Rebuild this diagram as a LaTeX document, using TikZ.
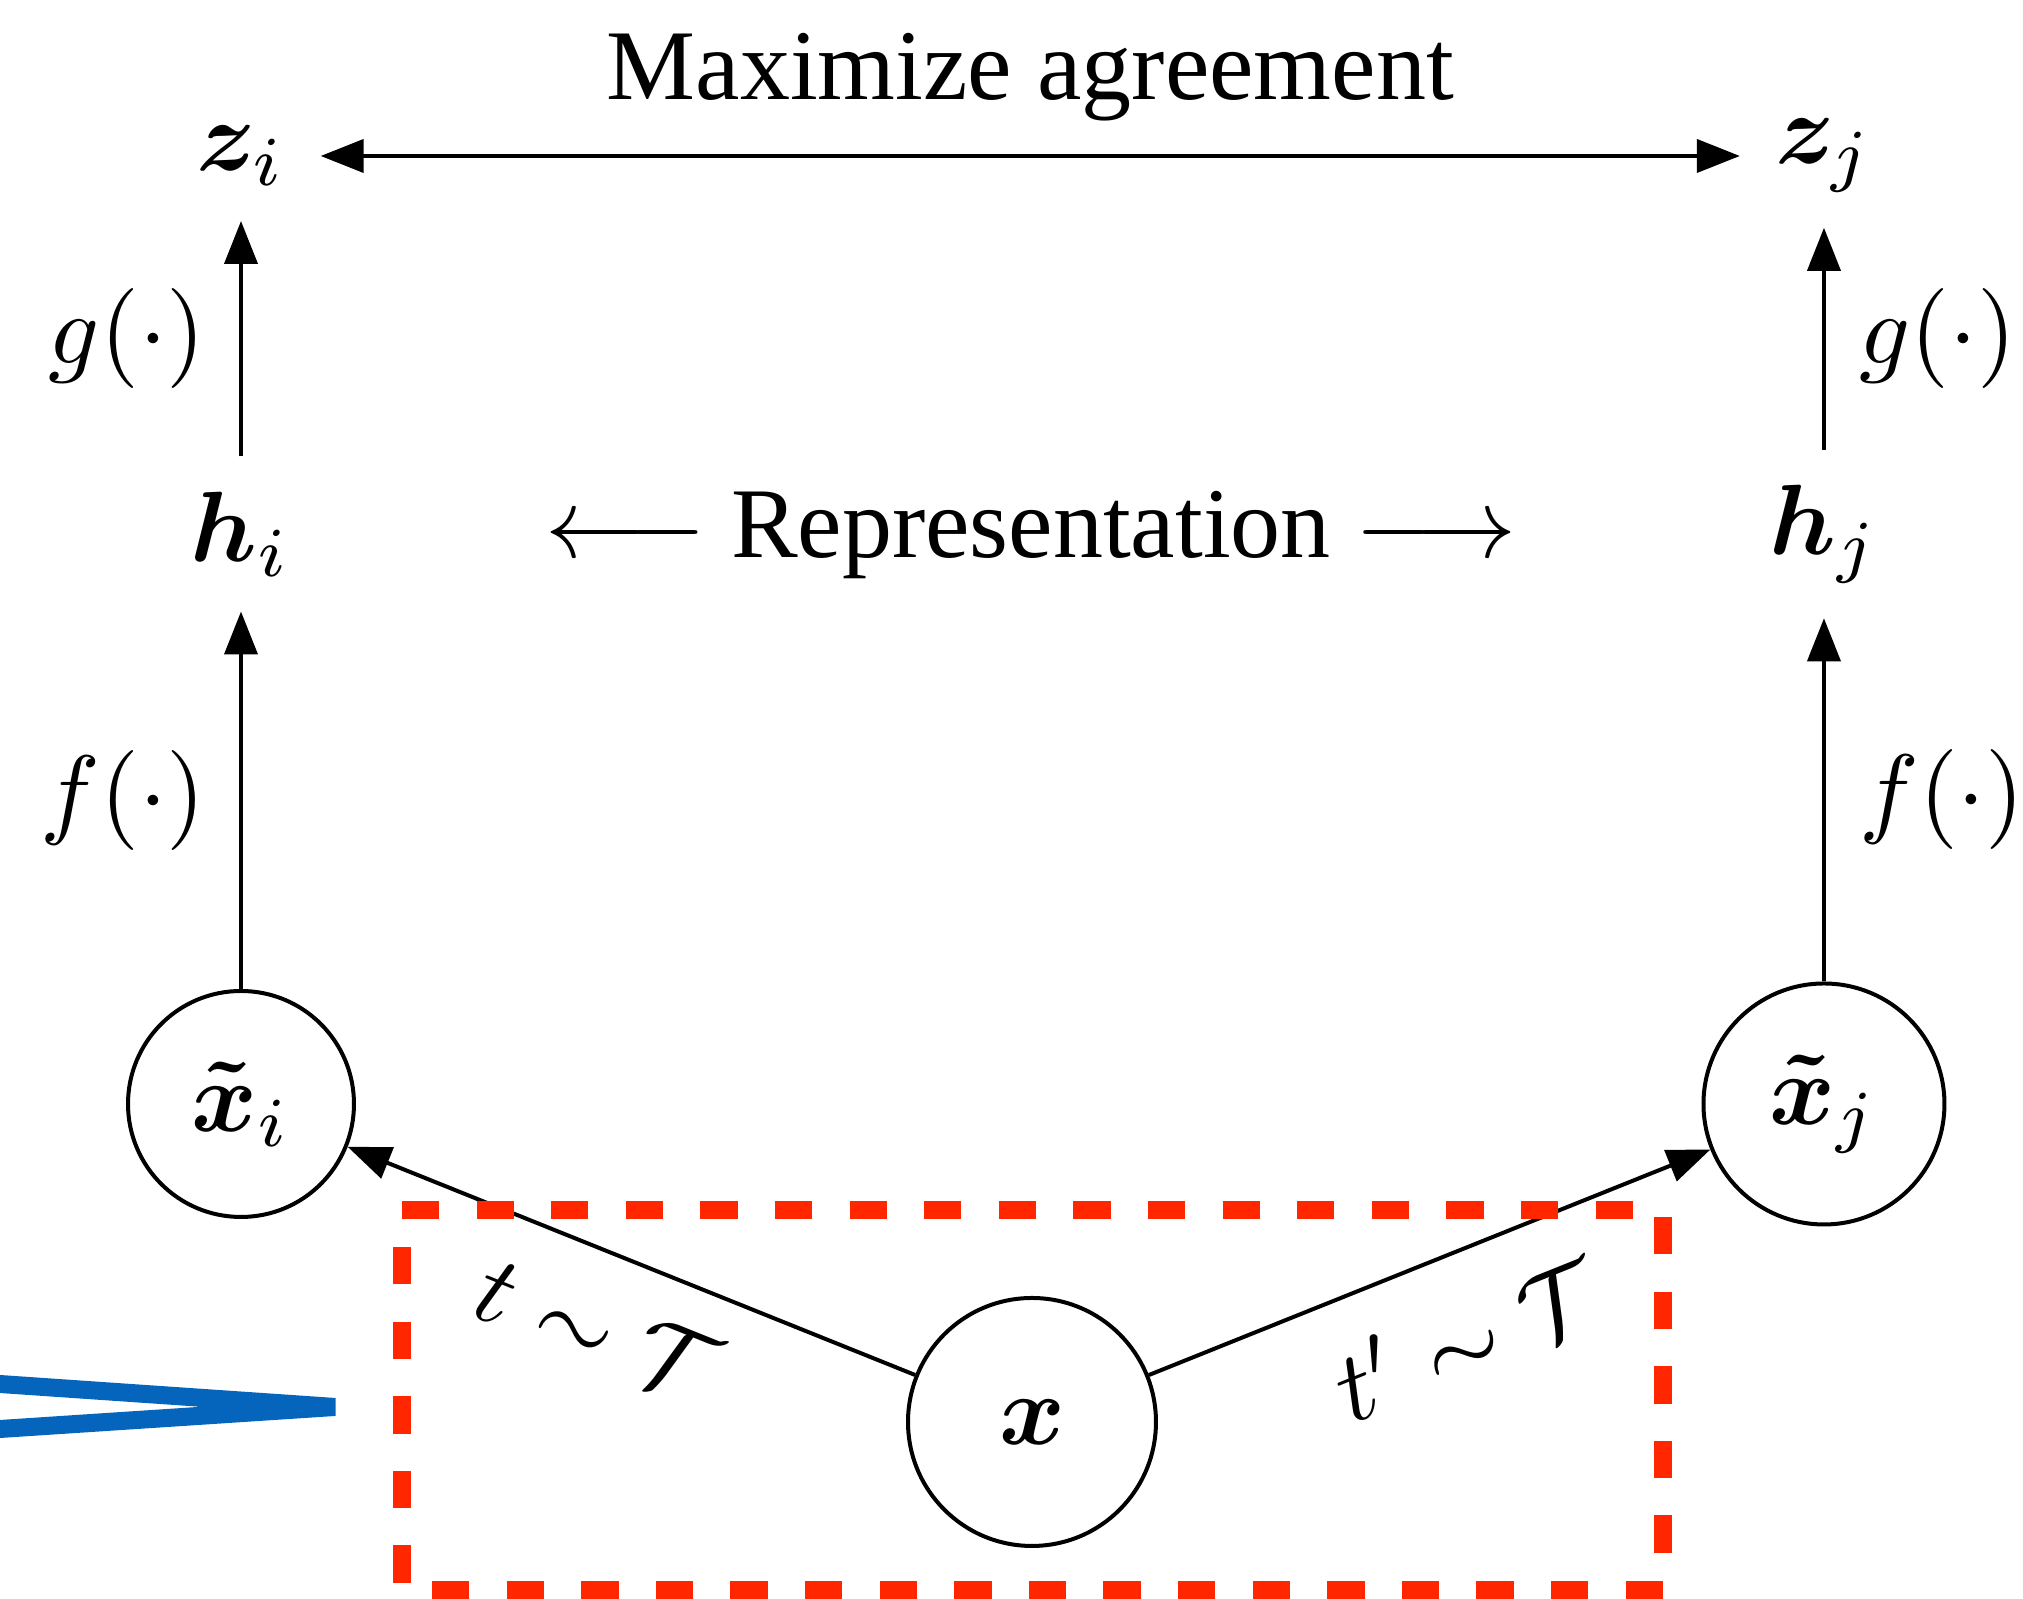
\documentclass[tikz,border=0pt]{standalone}
\usepackage{amsmath}
\usepackage{bm}
\usepackage[no-math]{fontspec}
\setmainfont{Liberation Serif}
\usetikzlibrary{arrows.meta}
\definecolor{cropred}{RGB}{255,38,0}
\definecolor{pointblue}{RGB}{5,101,189}
\tikzstyle{view}=[circle,draw,inner sep=0pt,minimum size=22.6pt]
\tikzstyle{embed}=[inner sep=3.33pt]
\tikzstyle{edge} = [draw,->]
\tikzstyle{fn} = [font=\normalsize]

\begin{document}
\begin{tikzpicture}[x=0.1pt,y=-0.1pt,>={Triangle[length=4.3pt,width=3.3pt]}]
    \useasboundingbox (0,0) rectangle (2023,1599);
        \node[view,minimum size=24.8pt] (x) at (1032,1422) {$\bm{x}$};
        \node[view] (xi) at (241,1104) {$\bm{\tilde{x}}_i$};
        \node[view,minimum size=24.1pt] (xj) at (1824,1104) {$\bm{\tilde{x}}_j$};
        \node[embed] (hi) at (241,534) {$\bm{h}_i$};
        \node[embed] (hj) at (1824,534) {$\bm{h}_j$};
        \node[embed] (zi) at (241,156) {$\bm{z}_i$};
        \node[embed] (zj) at (1824,156) {$\bm{z}_j$};
        \node[fn,anchor=base] (rep) at (1031,558) {$\longleftarrow$ Representation $\longrightarrow$};
        \path[edge] (x) -- node[fn,sloped,below=0.7pt,pos=0.51] {$t\sim\mathcal{T}$} (xi);
        \path[edge] (x) -- node[fn,sloped,below=1.1pt,pos=0.51] {$t^\prime\sim\mathcal{T}$} (xj);
        \path[edge] (xi) -- node[fn,left] {$f(\cdot)$} (hi);
        \path[edge] (xj) -- node[fn,right] {$f(\cdot)$} (hj);
        \path[edge] (hi) -- node[fn,left] {$g(\cdot)$} (zi);
        \path[edge] (hj) -- node[fn,right] {$g(\cdot)$} (zj);
        \path[edge,<->] (zi) -- node[fn,above] {Maximize agreement} (zj);
    % crop box and pointer
    \draw[cropred,line width=1.75pt,dash pattern=on 3.73pt off 3.73pt] (402,1210) -- (1663,1210) -- (1663,1590) -- (402,1590) -- cycle;
    \coordinate (tip) at (335,1407);
    \draw[pointblue,line width=1.8pt] (-50,1380.6) -- (tip) -- (-50,1432.3);
\end{tikzpicture}
\end{document}
